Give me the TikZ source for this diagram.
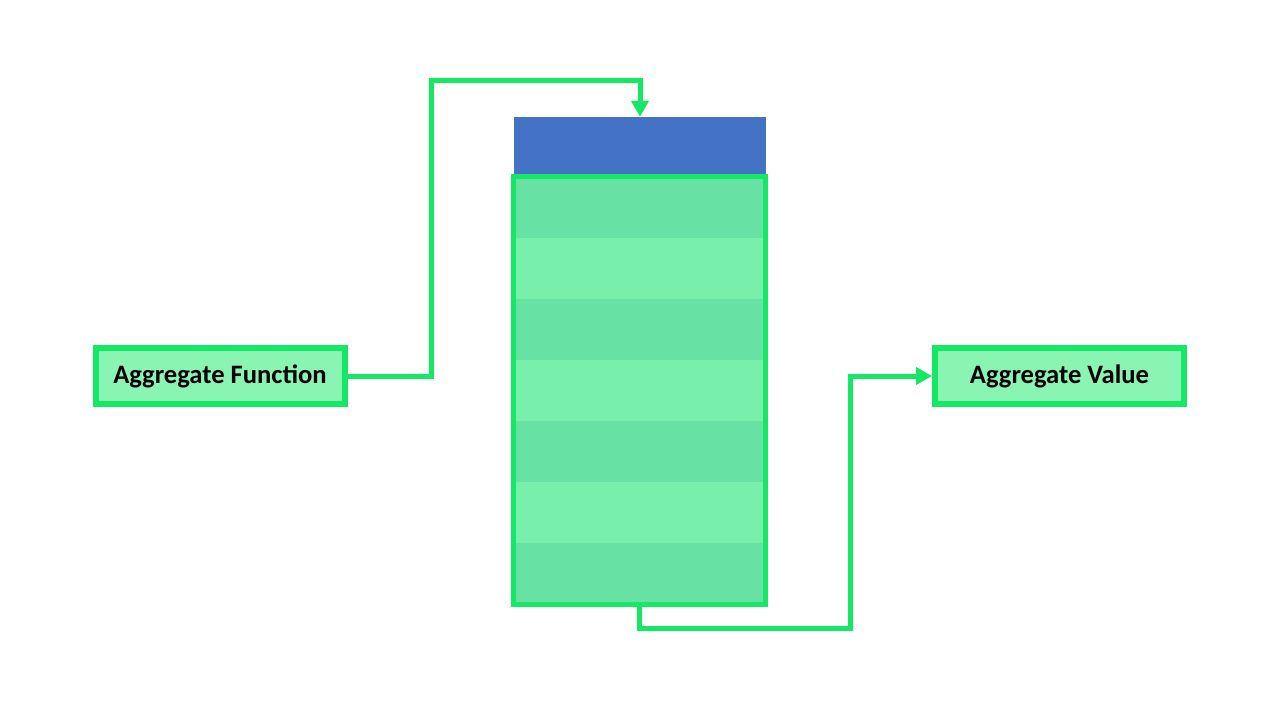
\documentclass[tikz,border=0pt]{standalone}
\usepackage{fontspec}
\setmainfont{Carlito}
\usepackage{tikz}
\usetikzlibrary{arrows.meta,positioning}
\definecolor{edge}{RGB}{20,232,100}
\definecolor{headblue}{RGB}{68,114,196}
\definecolor{boxfill}{RGB}{138,245,178}
\definecolor{rowdark}{RGB}{104,226,164}
\definecolor{rowlight}{RGB}{120,239,170}
\begin{document}
\begin{tikzpicture}[x=1pt, y=-1pt, line join=miter,
    labelbox/.style={draw=edge, line width=6pt, fill=boxfill, inner sep=0pt,
      minimum width=249pt, minimum height=56pt,
      font=\fontsize{26.6}{32}\selectfont\bfseries},
    link/.style={draw=edge, line width=5pt, -{Triangle[width=17pt,length=16pt]}}]
    \useasboundingbox (0,0) rectangle (1280,720);
    % Header
    \node[fill=headblue, inner sep=0pt, minimum width=252pt, minimum height=57pt]
      (head) at (640,145.5) {};
    % Rows
    \foreach \r[count=\i] in {0,...,6}{
      \ifodd\i
        \fill[rowdark] (513.5,176.5+61.14*\r) rectangle ++(252,61.14);
      \else
        \fill[rowlight] (513.5,176.5+61.14*\r) rectangle ++(252,61.14);
      \fi
    }
    \node[draw=edge, line width=5pt, inner sep=0pt, minimum width=252pt,
      minimum height=428pt] (tbl) at (639.5,390.5) {};
    % Boxes
    \node[labelbox] (func) at (220,376) {\raisebox{-2pt}{Aggregate Function}};
    \node[labelbox] (val) at (1059.5,376) {\raisebox{-2pt}{Aggregate Value}};
    % Arrows
    \coordinate (up) at (431,80);
    \coordinate (down) at (850,628);
    \draw[link] (func.east) -| (up) -| (head.north);
    \draw[link] (tbl.south) |- (down) |- (val.west);
\end{tikzpicture}
\end{document}
